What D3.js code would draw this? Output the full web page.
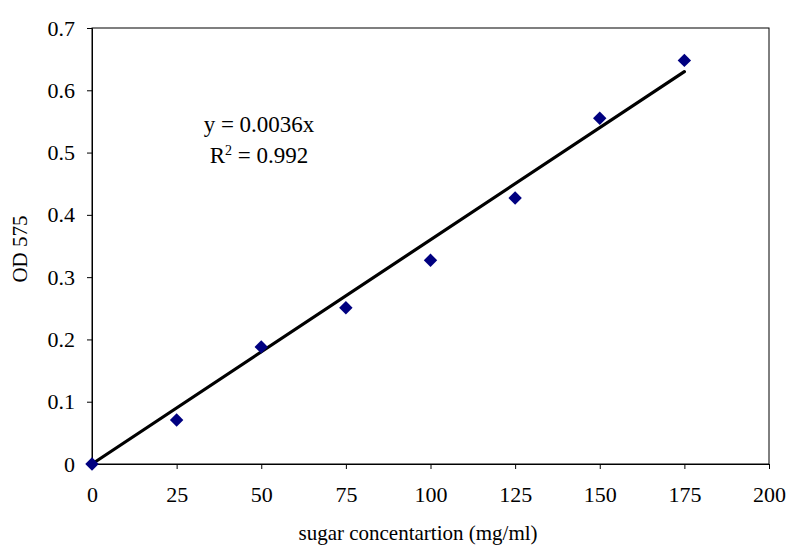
<!DOCTYPE html>
<html>
<head>
<meta charset="utf-8">
<script src="https://cdn.jsdelivr.net/npm/d3@7"></script>
<style>
  body { margin: 0; background: #fff; }
  text { font-family: "Liberation Serif", "Times New Roman", serif; fill: #000; }
</style>
</head>
<body>
<div id="chart"></div>
<script>
// data
let concentration = [0, 25, 50, 75, 100, 125, 150, 175];
let od575 = [0, 0.0705, 0.188, 0.251, 0.327, 0.427, 0.555, 0.648];
let slope = 0.0036;
let xTicks = [0, 25, 50, 75, 100, 125, 150, 175, 200];
let yTicks = [0, 0.1, 0.2, 0.3, 0.4, 0.5, 0.6, 0.7];

let margin = {top: 28, right: 21, bottom: 84, left: 92};
let width = 790 - margin.left - margin.right,
    height = 548 - margin.top - margin.bottom;

let svg = d3.select("#chart").append("svg")
    .attr("width", 790)
    .attr("height", 548)
    .append("g")
    .attr("transform", "translate(" + margin.left + "," + margin.top + ")");

let x = d3.scaleLinear().domain([0, 200]).range([0, width]);
let y = d3.scaleLinear().domain([0, 0.7]).range([height, 0]);

// plot border
svg.append("rect")
    .attr("x", 0).attr("y", 0)
    .attr("width", width).attr("height", height)
    .attr("fill", "none")
    .attr("stroke", "#000")
    .attr("stroke-width", 1);

// axes
let xAxis = d3.axisBottom(x).tickValues(xTicks).tickSize(5).tickPadding(17).tickFormat(d3.format("d"));
let yAxis = d3.axisLeft(y).tickValues(yTicks).tickSize(5).tickPadding(12).tickFormat(d => d === 0 ? "0" : d3.format(".1f")(d));

svg.append("g")
    .attr("class", "x-axis")
    .attr("transform", "translate(0," + height + ")")
    .call(xAxis);
svg.append("g")
    .attr("class", "y-axis")
    .call(yAxis);

svg.selectAll(".x-axis text, .y-axis text")
    .style("font-size", "22px")
    .style("font-family", "Liberation Serif");
svg.selectAll(".domain").attr("stroke", "#000");
svg.selectAll(".tick line").attr("stroke", "#000");

// trend line
let pts = concentration.map((c, i) => ({c: c, od: od575[i]}));
let xMax = d3.max(concentration);
svg.append("line")
    .attr("x1", x(0)).attr("y1", y(0))
    .attr("x2", x(xMax)).attr("y2", y(slope * xMax))
    .attr("stroke", "#000")
    .attr("stroke-width", 3.2)
    .attr("stroke-linecap", "round");

// diamond markers
svg.selectAll(".pt")
    .data(pts)
    .enter()
    .append("path")
    .attr("class", "pt")
    .attr("d", d3.symbol().type(d3.symbolDiamond2).size(115))
    .attr("transform", d => "translate(" + x(d.c) + "," + y(d.od) + ")")
    .attr("fill", "#000080");

// equation
let eq = svg.append("text")
    .attr("x", 167)
    .attr("y", 104)
    .attr("text-anchor", "middle")
    .style("font-size", "23px");
eq.append("tspan").text("y = " + slope + "x");
let r2 = svg.append("text")
    .attr("x", 167)
    .attr("y", 135)
    .attr("text-anchor", "middle")
    .style("font-size", "23px");
r2.append("tspan").text("R");
r2.append("tspan").attr("dy", -8).style("font-size", "14px").text("2");
r2.append("tspan").attr("dy", 8).text(" = 0.992");

// axis titles
svg.append("text")
    .attr("x", 326)
    .attr("y", height + 76)
    .attr("text-anchor", "middle")
    .style("font-size", "21px")
    .text("sugar concentartion (mg/ml)");

svg.append("text")
    .attr("transform", "translate(" + (-65) + "," + (221) + ") rotate(-90)")
    .attr("text-anchor", "middle")
    .style("font-size", "21px")
    .text("OD 575");
</script>
</body>
</html>
